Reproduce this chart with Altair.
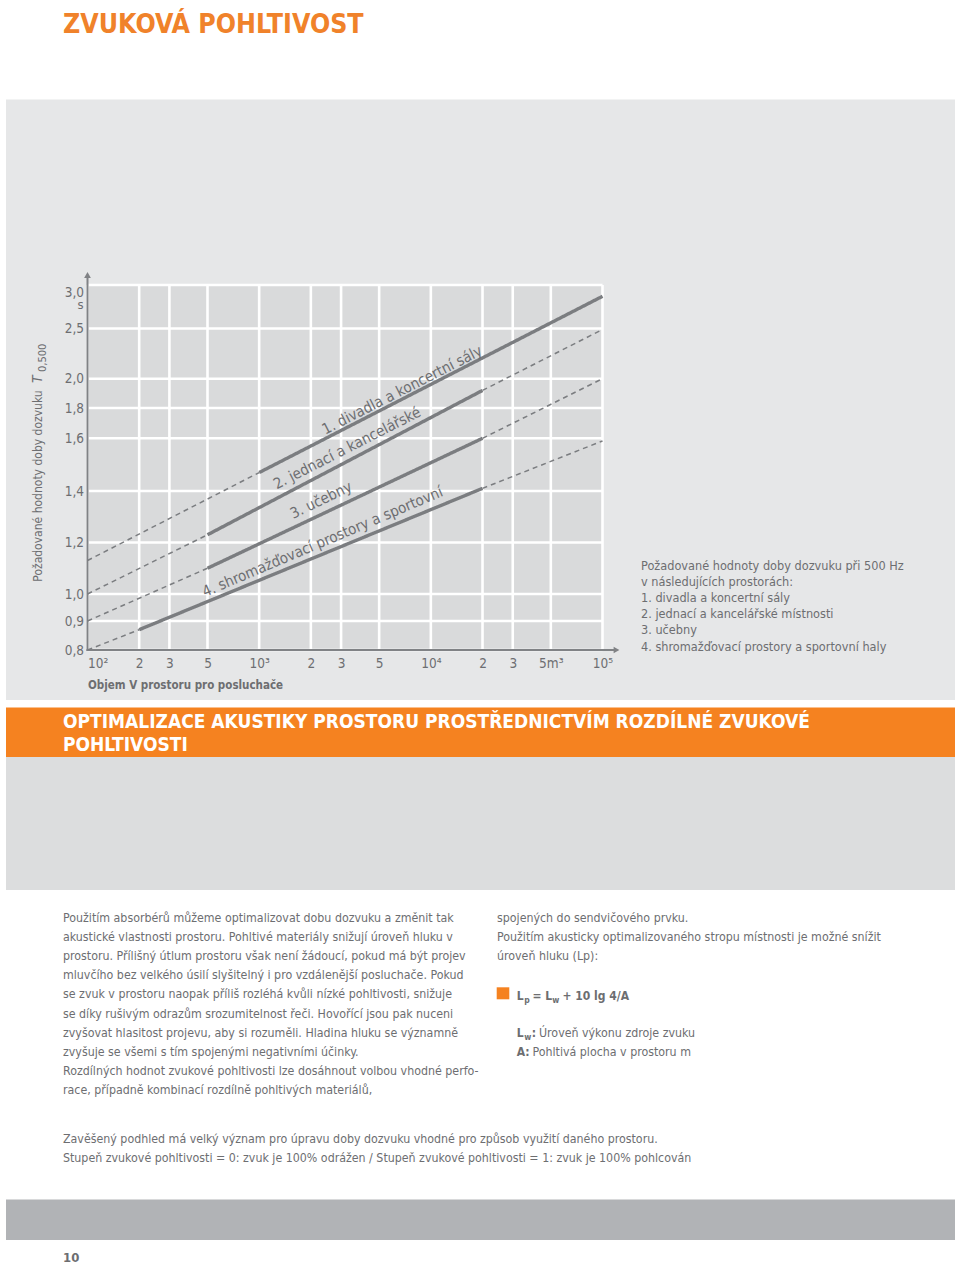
import altair as alt
import pandas as pd

# ---------------- data ----------------
LINE_NAMES = ["1", "2", "3", "4"]
# breakpoints of each curve: room volume V [m3] and required reverberation time T [s]
LINE1_V = [100, 1000, 100000]
LINE1_T = [1.13, 1.47, 2.87]
LINE1_STYLE = ["dashed", "solid"]
LINE2_V = [100, 500, 20000, 100000]
LINE2_T = [1.0, 1.23, 1.92, 2.49]
LINE2_STYLE = ["dashed", "solid", "dashed"]
LINE3_V = [100, 500, 20000, 100000]
LINE3_T = [0.9, 1.10, 1.60, 2.0]
LINE3_STYLE = ["dashed", "solid", "dashed"]
LINE4_V = [100, 200, 20000, 100000]
LINE4_T = [0.8, 0.87, 1.41, 1.59]
LINE4_STYLE = ["dashed", "solid", "dashed"]

LINE_LABELS = ["1. divadla a koncertní sály", "2. jednací a kancelářské",
               "3. učebny", "4. shromažďovací prostory a sportovní"]

X_TICKS = [100, 200, 300, 500, 1000, 2000, 3000, 5000, 10000, 20000, 30000, 50000, 100000]
X_TICK_LABELS = ["10²", "2", "3", "5", "10³", "2", "3", "5", "10⁴", "2", "3", "5m³", "10⁵"]
Y_TICKS = [0.8, 0.9, 1.0, 1.2, 1.4, 1.6, 1.8, 2.0, 2.5, 3.0]

PAGE_TITLE = "ZVUKOVÁ POHLTIVOST"
Y_TITLE = "Požadované hodnoty doby dozvuku"
Y_TITLE_SYMBOL = "T"
Y_TITLE_SUB = "0,500"
X_TITLE = "Objem V prostoru pro posluchače"
LEGEND_LINES = ["Požadované hodnoty doby dozvuku při 500 Hz",
                "v následujících prostorách:",
                "1. divadla a koncertní sály",
                "2. jednací a kancelářské místnosti",
                "3. učebny",
                "4. shromažďovací prostory a sportovní haly"]
BANNER_LINES = ["OPTIMALIZACE AKUSTIKY PROSTORU PROSTŘEDNICTVÍM ROZDÍLNÉ ZVUKOVÉ",
                "POHLTIVOSTI"]
LEFT_COLUMN = [
    "Použitím absorbérů můžeme optimalizovat dobu dozvuku a změnit tak",
    "akustické vlastnosti prostoru. Pohltivé materiály snižují úroveň hluku v",
    "prostoru. Přílišný útlum prostoru však není žádoucí, pokud má být projev",
    "mluvčího bez velkého úsilí slyšitelný i pro vzdálenější posluchače. Pokud",
    "se zvuk v prostoru naopak příliš rozléhá kvůli nízké pohltivosti, snižuje",
    "se díky rušivým odrazům srozumitelnost řeči. Hovořící jsou pak nuceni",
    "zvyšovat hlasitost projevu, aby si rozuměli. Hladina hluku se významně",
    "zvyšuje se všemi s tím spojenými negativními účinky.",
    "Rozdílných hodnot zvukové pohltivosti lze dosáhnout volbou vhodné perfo-",
    "race, případně kombinací rozdílně pohltivých materiálů,",
]
RIGHT_COLUMN = [
    "spojených do sendvičového prvku.",
    "Použitím akusticky optimalizovaného stropu místnosti je možné snížit",
    "úroveň hluku (Lp):",
]
FORMULA_PARTS = ["L", "p", "= L", "w", "+ 10 lg 4/A"]
LW_TEXT = "Úroveň výkonu zdroje zvuku"
A_LABEL = "A:"
A_TEXT = "Pohltivá plocha v prostoru m"
BOTTOM_LINES = [
    "Zavěšený podhled má velký význam pro úpravu doby dozvuku vhodné pro způsob využití daného prostoru.",
    "Stupeň zvukové pohltivosti = 0: zvuk je 100% odrážen /  Stupeň zvukové pohltivosti = 1: zvuk je 100% pohlcován",
]
PAGE_NUMBER = "10"

# ---------------- build tables ----------------
rows = []
for name, vs, ts, styles in [("1", LINE1_V, LINE1_T, LINE1_STYLE),
                             ("2", LINE2_V, LINE2_T, LINE2_STYLE),
                             ("3", LINE3_V, LINE3_T, LINE3_STYLE),
                             ("4", LINE4_V, LINE4_T, LINE4_STYLE)]:
    for i, st in enumerate(styles):
        seg = f"{name}-{i}"
        rows.append({"seg": seg, "line": name, "style": st, "V": vs[i], "T": ts[i], "o": 0})
        rows.append({"seg": seg, "line": name, "style": st, "V": vs[i + 1], "T": ts[i + 1], "o": 1})
segments = pd.DataFrame(rows)

# ---------------- styling / geometry ----------------
FONT = "DejaVu Sans Condensed, DejaVu Sans, sans-serif"
GRAY = "#6d6e71"
ORANGE = "#f58220"
LINE_COLOR = "#7b7d80"
W, H = 515, 365          # plot area
X0, Y0 = 87.5, 285       # page position of plot origin

XS = alt.Scale(type="log", domain=[100, 100000], nice=False)
YS = alt.Scale(domain=Y_TICKS, range=[365, 336, 309, 257.5, 206, 153.3, 123, 93.7, 43.5, 0],
               zero=False, nice=False)

x_label_expr = ""
for v, lab in zip(X_TICKS, X_TICK_LABELS):
    x_label_expr += f"datum.value == {v} ? '{lab}' : "
x_label_expr += "''"

X_AX = alt.Axis(values=X_TICKS, labelExpr=x_label_expr, grid=False, domain=False, ticks=False,
                tickSize=0, labelPadding=6, labelFont=FONT, labelFontSize=13.5, labelColor=GRAY,
                labelOverlap=False, labelFlush=False,
                labelAlign={"condition": {"test": "datum.value == 100", "value": "left"}, "value": "center"},
                title=X_TITLE, titleFont=FONT, titleFontSize=11.5, titleFontWeight="bold",
                titleColor=GRAY, titleAnchor="start", titleAlign="left", titleX=0, titleY=35,
                titleBaseline="middle", zindex=1)
Y_AX = alt.Axis(values=Y_TICKS, labelExpr="replace(format(datum.value, '.1f'), '.', ',')",
                grid=False, domain=False, ticks=False, tickSize=0, labelPadding=4,
                labelFont=FONT, labelFontSize=13.5, labelColor=GRAY, labelOverlap=False,
                labelFlush=False,
                labelBaseline={"condition": {"test": "datum.value == 3", "value": "top"}, "value": "middle"},
                title=None, zindex=1)

ONE = pd.DataFrame({"k": [0]})


def rect(x1, y1, x2, y2, color):
    return alt.Chart(ONE).mark_rect(color=color).encode(
        x=alt.value(x1 - X0), x2=alt.value(x2 - X0), y=alt.value(y1 - Y0), y2=alt.value(y2 - Y0))


def text(t, x, y, size=12.3, color=GRAY, weight="normal", align="left", baseline="alphabetic",
         angle=None, style="normal", lh=None):
    kw = dict(font=FONT, fontSize=size, color=color, fontWeight=weight, align=align,
              baseline=baseline, fontStyle=style)
    if angle is not None:
        kw["angle"] = angle
    if lh is not None:
        kw["lineHeight"] = lh
    return alt.Chart(ONE).mark_text(**kw).encode(
        x=alt.value(x - X0), y=alt.value(y - Y0), text=alt.value(t))


layers = []
# page panels
layers.append(rect(6, 99.5, 955, 700, "#e6e7e8"))
layers.append(rect(6, 707.5, 955, 757, ORANGE))
layers.append(rect(6, 757, 955, 890, "#dcddde"))
layers.append(rect(6, 1199.5, 955, 1240, "#b1b3b6"))
# plot area
layers.append(alt.Chart(ONE).mark_rect(color="#d9dadb").encode(
    x=alt.value(0), x2=alt.value(W), y=alt.value(0), y2=alt.value(H)))
# grid
layers.append(alt.Chart(pd.DataFrame({"v": X_TICKS})).mark_rule(color="white", strokeWidth=2.6).encode(
    x=alt.X("v:Q", scale=XS, axis=X_AX), y=alt.value(0), y2=alt.value(H)))
layers.append(alt.Chart(pd.DataFrame({"v": Y_TICKS})).mark_rule(color="white", strokeWidth=2.6).encode(
    y=alt.Y("v:Q", scale=YS, axis=Y_AX), x=alt.value(0), x2=alt.value(W)))
# axis lines with arrows
layers.append(alt.Chart(ONE).mark_rule(color="#808285", strokeWidth=2).encode(
    x=alt.value(0), y=alt.value(H + 1), y2=alt.value(-9)))
layers.append(alt.Chart(ONE).mark_rule(color="#808285", strokeWidth=2).encode(
    x=alt.value(-1), x2=alt.value(527), y=alt.value(H)))
layers.append(alt.Chart(ONE).mark_point(shape="triangle-up", filled=True, color="#808285",
                                        size=45, opacity=1).encode(
    x=alt.value(0), y=alt.value(-10)))
layers.append(alt.Chart(ONE).mark_point(shape="triangle-right", filled=True, color="#808285",
                                        size=45, opacity=1).encode(
    x=alt.value(529), y=alt.value(H)))
# curves
layers.append(alt.Chart(segments).mark_line(color=LINE_COLOR).encode(
    x=alt.X("V:Q", scale=XS, axis=X_AX),
    y=alt.Y("T:Q", scale=YS, axis=Y_AX),
    detail="seg:N",
    order="o:Q",
    strokeDash=alt.StrokeDash("style:N", scale=alt.Scale(domain=["solid", "dashed"],
                                                          range=[[1, 0], [5, 4]]), legend=None),
    strokeWidth=alt.StrokeWidth("style:N", scale=alt.Scale(domain=["solid", "dashed"],
                                                            range=[3.4, 1.5]), legend=None),
))
# curve labels
layers.append(text(LINE_LABELS[0], 402, 390, size=15, align="center", baseline="middle", angle=333))
layers.append(text(LINE_LABELS[1], 347, 448, size=15, align="center", baseline="middle", angle=333))
layers.append(text(LINE_LABELS[2], 321, 500, size=15, align="center", baseline="middle", angle=334))
layers.append(text(LINE_LABELS[3], 322.5, 541.7, size=15, align="center", baseline="middle", angle=337))
# y axis title
layers.append(text(Y_TITLE, 38.3, 581.7, size=12, align="left", baseline="middle", angle=270))
layers.append(text(Y_TITLE_SYMBOL, 38.3, 383, size=14, align="left", baseline="middle", angle=270,
                   style="italic"))
layers.append(text(Y_TITLE_SUB, 42.5, 372, size=11, align="left", baseline="middle", angle=270))
layers.append(text("s", 83.5, 305, size=13, align="right", baseline="middle"))
# title
layers.append(text(PAGE_TITLE, 63, 33.3, size=26.5, color="#f0822a", weight="bold"))
# legend
layers.append(text(LEGEND_LINES, 641, 569.5, size=12.6, lh=16.2))
# banner
layers.append(text(BANNER_LINES, 63, 728, size=19, color="white", weight="bold", lh=23))
# columns
layers.append(text(LEFT_COLUMN, 63, 921.5, lh=19.2))
layers.append(text(RIGHT_COLUMN, 497, 921.5, lh=19.2))
# formula
layers.append(rect(496.7, 987.3, 509.3, 999.3, ORANGE))
layers.append(text(FORMULA_PARTS[0], 516.7, 999.5, size=12, weight="bold"))
layers.append(text(FORMULA_PARTS[1], 524.2, 1002.5, size=8.5, weight="bold"))
layers.append(text(FORMULA_PARTS[2], 532.5, 999.5, size=12, weight="bold"))
layers.append(text(FORMULA_PARTS[3], 552.3, 1002.5, size=8.5, weight="bold"))
layers.append(text(FORMULA_PARTS[4], 562.5, 999.5, size=12, weight="bold"))
layers.append(text("L", 516.7, 1036.5, size=12, weight="bold"))
layers.append(text("w", 524.2, 1039.5, size=8.5, weight="bold"))
layers.append(text(":", 531.8, 1036.5, size=12, weight="bold"))
layers.append(text(LW_TEXT, 539, 1036.5))
layers.append(text(A_LABEL, 516.7, 1055.5, size=12, weight="bold"))
layers.append(text(A_TEXT, 532.5, 1055.5))
# bottom text
layers.append(text(BOTTOM_LINES, 63, 1142.5, lh=19))
layers.append(text(PAGE_NUMBER, 63, 1262, size=13, weight="bold"))

chart = alt.layer(*layers).properties(
    width=W, height=H,
    padding={"left": X0, "top": Y0, "right": 960 - X0 - W, "bottom": 1265 - Y0 - H},
    autosize=alt.AutoSizeParams(type="none"),
).configure_view(stroke=None).configure(background="white")

chart.save("out.html", embed_options={"renderer": "svg", "actions": False})
